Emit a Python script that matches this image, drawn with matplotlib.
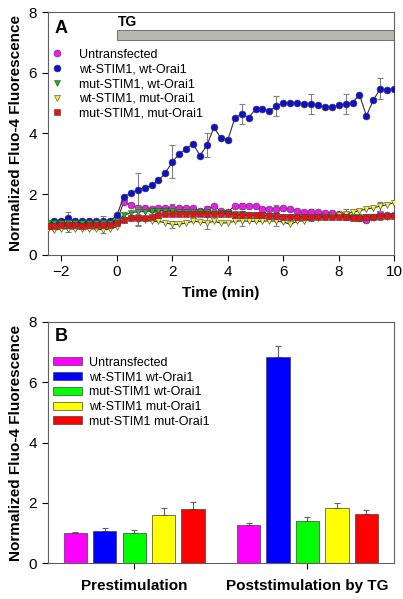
import numpy as np
import matplotlib.pyplot as plt
from matplotlib.patches import Rectangle

plt.rcParams['font.family'] = ['Liberation Sans', 'DejaVu Sans']

# Panel A: time course (every 0.25 min from -2.5 to 10 min)
times = np.arange(-2.5, 10.01, 0.25)

untransfected = [1.0, 1.0, 1.02, 1.0, 1.0, 1.0, 1.0, 1.0, 1.0, 1.0,
                 1.1, 1.75, 1.65, 1.55, 1.55, 1.5, 1.55, 1.55, 1.55,
                 1.55, 1.55, 1.55, 1.45, 1.5, 1.6, 1.45, 1.4,
                 1.62, 1.62, 1.6, 1.6, 1.52, 1.5, 1.52, 1.55,
                 1.5, 1.45, 1.4, 1.4, 1.4, 1.38, 1.38, 1.35,
                 1.3, 1.25, 1.22, 1.15, 1.25, 1.35, 1.3, 1.3]
wt_wt = [np.nan, 1.12, 1.12, 1.2, 1.12, 1.1, 1.1, 1.1, 1.12, 1.1,
         1.3, 1.92, 2.02, 2.15, 2.2, 2.3, 2.45, 2.7, 3.07,
         3.32, 3.5, 3.65, 3.27, 3.62, 4.2, 3.85, 3.78,
         4.5, 4.65, 4.52, 4.8, 4.8, 4.75, 4.9, 5.02,
         5.0, 5.02, 4.98, 4.98, 4.95, 4.88, 4.88, 4.93,
         4.98, 5.02, 5.28, 4.58, 5.1, 5.48, 5.45, 5.48]
mut_wt = [1.05, 1.04, 1.05, 1.06, 1.05, 1.05, 1.04, 1.05, 1.06, 1.05,
          1.1, 1.3, 1.38, 1.42, 1.42, 1.45, 1.45, 1.44, 1.45,
          1.42, 1.42, 1.41, 1.4, 1.4, 1.38, 1.38, 1.36,
          1.35, 1.33, 1.32, 1.3, 1.3, 1.28, 1.27, 1.26,
          1.25, 1.24, 1.25, 1.25, 1.26, 1.25, 1.24, 1.25,
          1.25, 1.24, 1.25, 1.25, 1.26, 1.25, 1.26, 1.27]
wt_mut = [0.85, 0.82, 0.85, 0.85, 0.84, 0.85, 0.85, 0.85, 0.82, 0.85,
          0.92, 1.15, 1.2, 1.15, 1.15, 1.1, 1.1, 1.05, 1.0,
          1.0, 1.05, 1.1, 1.08, 1.05, 1.1, 1.05, 1.05,
          1.1, 1.12, 1.1, 1.1, 1.1, 1.12, 1.1, 1.08,
          1.0, 1.1, 1.12, 1.2, 1.2, 1.25, 1.28, 1.3,
          1.35, 1.4, 1.45, 1.5, 1.55, 1.6, 1.65, 1.72]
mut_mut = [0.95, 0.95, 0.97, 0.97, 0.97, 0.96, 0.97, 0.97, 0.97, 0.97,
           1.05, 1.15, 1.22, 1.22, 1.22, 1.25, 1.3, 1.33, 1.35,
           1.35, 1.35, 1.35, 1.33, 1.35, 1.35, 1.33, 1.35,
           1.32, 1.3, 1.3, 1.3, 1.3, 1.28, 1.27, 1.25,
           1.25, 1.24, 1.25, 1.25, 1.26, 1.25, 1.24, 1.25,
           1.25, 1.22, 1.22, 1.25, 1.25, 1.27, 1.27, 1.28]

# error bars only drawn at these time points
err_times = [-1.75, -0.5, 0.75, 2.0, 3.25, 4.5, 5.75, 7.0, 8.25, 9.5]
err_untransfected = [0.05, 0.05, 0.1, 0.12, 0.1, 0.1, 0.12, 0.1, 0.1, 0.1]
err_wt_wt = [0.2, 0.15, 0.55, 0.55, 0.38, 0.33, 0.33, 0.33, 0.33, 0.35]
err_mut_wt = [0.1, 0.1, 0.12, 0.1, 0.1, 0.1, 0.1, 0.1, 0.1, 0.1]
err_wt_mut = [0.1, 0.1, 0.2, 0.12, 0.2, 0.18, 0.15, 0.1, 0.15, 0.15]
err_mut_mut = [0.1, 0.1, 0.25, 0.08, 0.08, 0.08, 0.08, 0.1, 0.08, 0.08]

labels_a = ["Untransfected", "wt-STIM1, wt-Orai1", "mut-STIM1, wt-Orai1",
            "wt-STIM1, mut-Orai1", "mut-STIM1, mut-Orai1"]

# Panel B: bar chart
groups = ["Prestimulation", "Poststimulation by TG"]
labels_b = ["Untransfected", "wt-STIM1 wt-Orai1", "mut-STIM1 wt-Orai1",
            "wt-STIM1 mut-Orai1", "mut-STIM1 mut-Orai1"]
pre_vals = [1.0, 1.07, 1.0, 1.6, 1.8]
pre_err = [0.02, 0.11, 0.09, 0.22, 0.24]
post_vals = [1.26, 6.83, 1.41, 1.84, 1.63]
post_err = [0.06, 0.36, 0.11, 0.15, 0.12]

marker_colors = ["#e81ee8", "#1010cc", "#10c010", "#f0f020", "#e81010"]
bar_colors = ["#ff00ff", "#0000ff", "#00ff00", "#ffff00", "#ff0000"]
markers = ["o", "o", "v", "v", "s"]

fig = plt.figure(figsize=(4.03, 5.99), dpi=100)
ax1 = fig.add_axes([0.118, 0.5748, 0.860, 0.4047])
ax2 = fig.add_axes([0.118, 0.0596, 0.860, 0.4033])

series = [untransfected, wt_wt, mut_wt, wt_mut, mut_mut]
errs = [err_untransfected, err_wt_wt, err_mut_wt, err_wt_mut, err_mut_mut]
for i in range(5):
    y = np.array(series[i])
    ax1.plot(times, y, color="#303030", lw=0.8, zorder=2 + i)
    idx = [int(round((t - times[0]) / 0.25)) for t in err_times]
    ax1.errorbar(err_times, y[idx], yerr=errs[i], fmt="none", ecolor="#808080",
                 elinewidth=0.8, capsize=2.2, capthick=0.8, zorder=2 + i)
    ax1.plot(times, y, ls="none", marker=markers[i], ms=5,
             mfc=marker_colors[i], mec="#404040", mew=0.4, zorder=3 + i,
             label=labels_a[i])

ax1.add_patch(Rectangle((0, 7.07), 10.5, 0.33, facecolor="#b8b8b0",
                        edgecolor="#606060", lw=0.6, zorder=1))
ax1.text(0.05, 7.68, "TG", fontsize=10, fontweight="bold", va="center")
ax1.text(0.02, 0.935, "A", transform=ax1.transAxes, fontsize=13,
         fontweight="bold", va="center")
ax1.set_xlim(-2.5, 10)
ax1.set_ylim(0, 8)
ax1.set_xticks([-2, 0, 2, 4, 6, 8, 10])
ax1.set_yticks([0, 2, 4, 6, 8])
ax1.set_xlabel("Time (min)", fontsize=11, fontweight="bold", labelpad=5)
ax1.set_ylabel("Normalized Fluo-4 Fluorescence", fontsize=11, fontweight="bold")
ax1.legend(loc="upper left", bbox_to_anchor=(0.01, 0.85), frameon=False,
           fontsize=9, handlelength=1.0, handletextpad=1.2, labelspacing=0.22,
           borderpad=0, borderaxespad=0)

# bars
w = 0.135
for i in range(5):
    xs = np.array([0, 1]) + (i - 2) * 0.17
    ax2.bar(xs, [pre_vals[i], post_vals[i]], width=w, color=bar_colors[i],
            edgecolor="#404040", lw=0.5, label=labels_b[i], zorder=2)
    ax2.errorbar(xs, [pre_vals[i], post_vals[i]],
                 yerr=[[0, 0], [pre_err[i], post_err[i]]], fmt="none",
                 ecolor="#606060", elinewidth=0.8, capsize=2, capthick=0.8,
                 zorder=1)
ax2.text(0.02, 0.937, "B", transform=ax2.transAxes, fontsize=13,
         fontweight="bold", va="center")
ax2.set_xlim(-0.5, 1.5)
ax2.set_ylim(0, 8)
ax2.set_yticks([0, 2, 4, 6, 8])
ax2.set_xticks([0, 1])
ax2.set_ylabel("Normalized Fluo-4 Fluorescence", fontsize=11, fontweight="bold")
ax2.legend(loc="upper left", bbox_to_anchor=(0.015, 0.855), frameon=False,
           fontsize=9, handlelength=2.3, handleheight=0.6, handletextpad=0.6,
           labelspacing=0.22, borderpad=0, borderaxespad=0)

for ax in (ax1, ax2):
    ax.tick_params(direction="out", labelsize=11, length=4, width=0.8)
    for s in ax.spines.values():
        s.set_color("#606060")
        s.set_linewidth(0.8)

ax2.set_xticklabels(groups, fontsize=11, fontweight="bold")
ax2.tick_params(axis="x", pad=7)

plt.savefig("out.png", dpi=100)
